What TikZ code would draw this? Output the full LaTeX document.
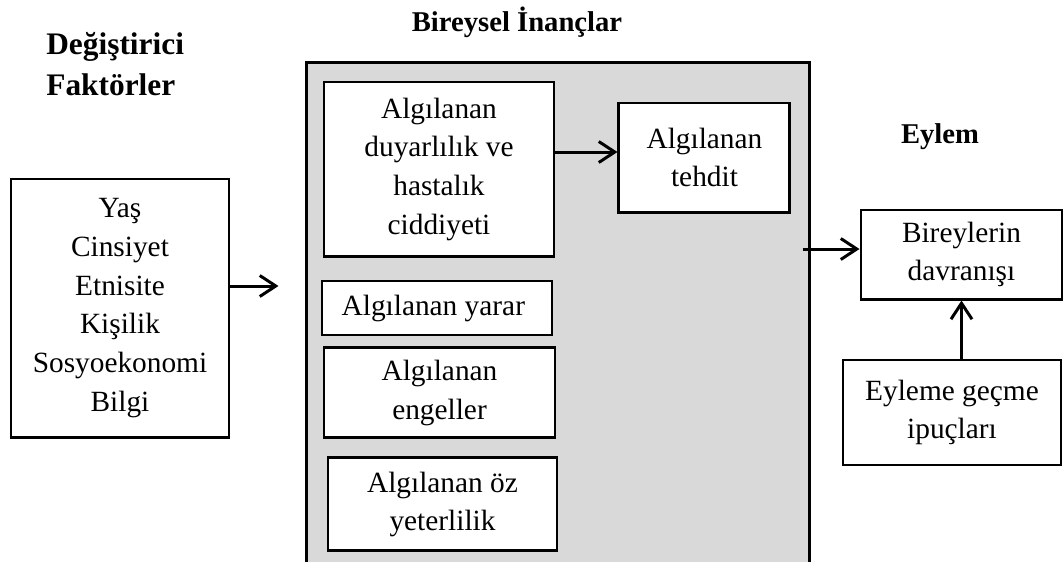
\documentclass[tikz,border=0pt]{standalone}
\usepackage{fontspec}
\setmainfont{Liberation Serif}
\usepackage{xcolor}
\usepackage{tikz}
\usetikzlibrary{positioning}
\usetikzlibrary{backgrounds}
\usetikzlibrary{calc}
\usetikzlibrary{arrows.meta}

\definecolor{inancgri}{HTML}{D9D9D9}

\tikzset{
  kutu/.style={draw=black, line width=1.7pt, fill=white, inner sep=0pt, align=center,
               font=\fontsize{16.7}{22}\selectfont},
  baslik/.style={inner sep=0pt, font=\fontsize{16.3}{22}\selectfont\bfseries},
  ok/.style={line width=1.7pt, -{Straight Barb[length=0.32cm,width=0.42cm]}},
}

\begin{document}
\begin{tikzpicture}
 \useasboundingbox (0,0) rectangle (21.26,-11.22);

 \node (degistirici) at (0.92,-1.9) [anchor=base west, align=left, inner sep=0pt,
        font=\fontsize{17.85}{22.8}\selectfont\bfseries] { Değiştirici\\Faktörler };
 \node (bireysel) at (10.34,-0.62) [baslik, anchor=base] { Bireysel İnançlar };
 \node (eylem) at (18.8,-2.86) [baslik, anchor=base] { Eylem };

 \node (faktor) at (2.4,-6.16) [kutu, minimum width=4.36cm, minimum height=5.16cm]
       { Yaş\\Cinsiyet\\Etnisite\\Kişilik\\Sosyoekonomi\\Bilgi };

 \node (duyarlilik) at (8.78,-3.38) [kutu, minimum width=4.6cm, minimum height=3.48cm]
       { Algılanan\\duyarlılık ve\\hastalık\\ciddiyeti };
 \node (tehdit) [kutu, minimum width=3.42cm, minimum height=2.18cm,
        right=1.24cm of duyarlilik.north east, anchor=north west, yshift=-0.42cm]
       { Algılanan\\tehdit };
 \node (yarar) [kutu, minimum width=4.6cm, minimum height=1.08cm,
        below=0.44cm of duyarlilik.south west, anchor=north west, xshift=-0.04cm]
       { Algılanan yarar };
 \node (engel) [kutu, minimum width=4.62cm, minimum height=1.8cm,
        below=0.2cm of yarar.south west, anchor=north west, xshift=0.04cm]
       { Algılanan\\engeller };
 \node (oz) [kutu, minimum width=4.58cm, minimum height=1.86cm,
        below=0.34cm of engel.south west, anchor=north west, xshift=0.08cm]
       { Algılanan öz\\yeterlilik };

 \node (davranis) at (19.23,-5.09) [kutu, minimum width=4.02cm, minimum height=1.78cm]
       { Bireylerin\\davranışı };
 \node (eylemegecme) [kutu, minimum width=4.36cm, minimum height=2.1cm,
        below=1.16cm of davranis.south east, anchor=north east, xshift=-0.02cm]
       { Eyleme geçme\\ipuçları };

 % oklar
 \coordinate (faktorok) at ($ (faktor.east) + (0.96cm,0.44cm) $);
 \draw [ok] (faktor.east |- faktorok) -- (faktorok);

 \coordinate (duyarlilikok) at ($ (duyarlilik.east) + (0,0.34cm) $);
 \draw [ok] (duyarlilikok) -- (duyarlilikok -| tehdit.west);

 \coordinate (inanccikis) at ($ (davranis.west) + (-1.14cm,0.11cm) $);
 \draw [ok] (inanccikis) -- (inanccikis -| davranis.west);

 \draw [ok] (eylemegecme.north -| davranis.south) -- (davranis.south);

 \begin{scope}[on background layer]
   \draw [draw=black, line width=1.7pt, fill=inancgri]
     ($ (duyarlilik.north west) + (-0.32cm,0.36cm) $) rectangle ($ (oz.south west) + (9.66cm,-0.28cm) $);
 \end{scope}
\end{tikzpicture}
\end{document}
